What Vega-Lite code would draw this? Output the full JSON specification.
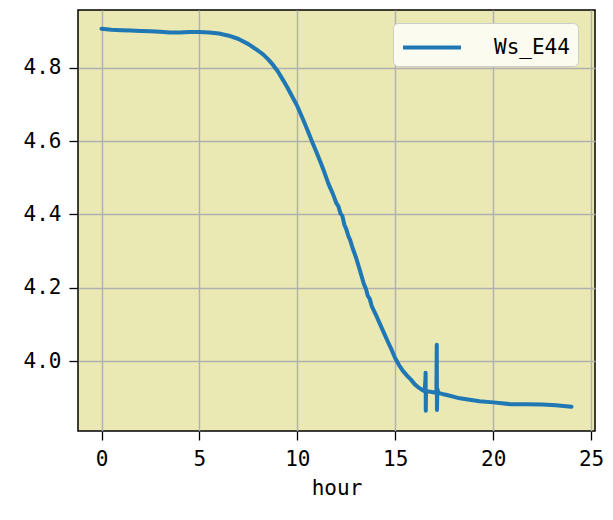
{
  "$schema": "https://vega.github.io/schema/vega-lite/v6.json",
  "autosize": "none",
  "width": 517,
  "height": 421,
  "padding": {"left": 78, "top": 10, "right": 18, "bottom": 89},
  "background": "white",
  "config": {
    "view": {"fill": "#EAE8B3", "stroke": "black", "strokeWidth": 1.5},
    "axis": {
      "labelFont": "DejaVu Sans Mono",
      "labelFontSize": 21,
      "labelColor": "black",
      "titleFont": "DejaVu Sans Mono",
      "titleFontSize": 21,
      "titleFontWeight": "normal",
      "titleColor": "black",
      "domain": false,
      "gridColor": "#b0b0b0",
      "gridWidth": 1.4,
      "tickColor": "black",
      "tickWidth": 1.3,
      "tickSize": 9,
      "labelPadding": 8
    }
  },
  "data": {
    "values": [
      {"hour": 0, "value": 4.906},
      {"hour": 0.5, "value": 4.903},
      {"hour": 1, "value": 4.902},
      {"hour": 1.5, "value": 4.901},
      {"hour": 2, "value": 4.900},
      {"hour": 2.5, "value": 4.899},
      {"hour": 3, "value": 4.898},
      {"hour": 3.5, "value": 4.896},
      {"hour": 4, "value": 4.896},
      {"hour": 4.5, "value": 4.897},
      {"hour": 5, "value": 4.897},
      {"hour": 5.5, "value": 4.896},
      {"hour": 6, "value": 4.893},
      {"hour": 6.5, "value": 4.887},
      {"hour": 7, "value": 4.878},
      {"hour": 7.5, "value": 4.864},
      {"hour": 8, "value": 4.846},
      {"hour": 8.25, "value": 4.836},
      {"hour": 8.5, "value": 4.823},
      {"hour": 8.75, "value": 4.808},
      {"hour": 9, "value": 4.790},
      {"hour": 9.25, "value": 4.768},
      {"hour": 9.5, "value": 4.745},
      {"hour": 9.75, "value": 4.720},
      {"hour": 10, "value": 4.695},
      {"hour": 10.25, "value": 4.664},
      {"hour": 10.5, "value": 4.632},
      {"hour": 10.75, "value": 4.599},
      {"hour": 11, "value": 4.567},
      {"hour": 11.2, "value": 4.540},
      {"hour": 11.4, "value": 4.512},
      {"hour": 11.6, "value": 4.482},
      {"hour": 11.8, "value": 4.458},
      {"hour": 12.0, "value": 4.430},
      {"hour": 12.1, "value": 4.422},
      {"hour": 12.2, "value": 4.403},
      {"hour": 12.3, "value": 4.396},
      {"hour": 12.4, "value": 4.372},
      {"hour": 12.5, "value": 4.360},
      {"hour": 12.6, "value": 4.342},
      {"hour": 12.7, "value": 4.330},
      {"hour": 12.8, "value": 4.312},
      {"hour": 12.9, "value": 4.297},
      {"hour": 13.0, "value": 4.282},
      {"hour": 13.2, "value": 4.247},
      {"hour": 13.4, "value": 4.210},
      {"hour": 13.5, "value": 4.198},
      {"hour": 13.6, "value": 4.178},
      {"hour": 13.7, "value": 4.170},
      {"hour": 13.8, "value": 4.150},
      {"hour": 14.0, "value": 4.128},
      {"hour": 14.2, "value": 4.104},
      {"hour": 14.4, "value": 4.080},
      {"hour": 14.6, "value": 4.056},
      {"hour": 14.8, "value": 4.033},
      {"hour": 15.0, "value": 4.008},
      {"hour": 15.2, "value": 3.989},
      {"hour": 15.4, "value": 3.973},
      {"hour": 15.6, "value": 3.961},
      {"hour": 15.8, "value": 3.950},
      {"hour": 16.0, "value": 3.937},
      {"hour": 16.2, "value": 3.928},
      {"hour": 16.4, "value": 3.921},
      {"hour": 16.5, "value": 3.918},
      {"hour": 16.54, "value": 3.950},
      {"hour": 16.55, "value": 3.969},
      {"hour": 16.56, "value": 3.865},
      {"hour": 16.57, "value": 3.920},
      {"hour": 16.6, "value": 3.918},
      {"hour": 16.8, "value": 3.917},
      {"hour": 17.0, "value": 3.915},
      {"hour": 17.1, "value": 3.913},
      {"hour": 17.12, "value": 4.045},
      {"hour": 17.13, "value": 3.867},
      {"hour": 17.15, "value": 3.925},
      {"hour": 17.2, "value": 3.914},
      {"hour": 17.4, "value": 3.911},
      {"hour": 17.64, "value": 3.908},
      {"hour": 18.3, "value": 3.899},
      {"hour": 19.3, "value": 3.891},
      {"hour": 20.0, "value": 3.888},
      {"hour": 20.9, "value": 3.883},
      {"hour": 21.7, "value": 3.883},
      {"hour": 22.5, "value": 3.882},
      {"hour": 23.2, "value": 3.880},
      {"hour": 24.0, "value": 3.876}
    ]
  },
  "mark": {"type": "line", "strokeWidth": 4, "strokeJoin": "round", "strokeCap": "round"},
  "encoding": {
    "x": {
      "field": "hour",
      "type": "quantitative",
      "scale": {"domain": [-1.2, 25.2], "nice": false, "zero": false},
      "axis": {"values": [0, 5, 10, 15, 20, 25], "title": "hour", "titlePadding": 8}
    },
    "y": {
      "field": "value",
      "type": "quantitative",
      "scale": {"domain": [3.81, 4.957], "nice": false, "zero": false},
      "axis": {"values": [4.0, 4.2, 4.4, 4.6, 4.8], "format": ".1f", "title": null}
    },
    "color": {
      "datum": "Ws_E44",
      "type": "nominal",
      "scale": {"range": ["#1f77b4"]},
      "legend": {
        "title": null,
        "orient": "none",
        "legendX": 315,
        "legendY": 13,
        "symbolType": "M-1,0H3",
        "symbolSize": 841,
        "symbolStrokeWidth": 4,
        "labelFont": "DejaVu Sans Mono",
        "labelFontSize": 21,
        "labelColor": "black",
        "labelOffset": 60,
        "padding": 8,
        "fillColor": "#FBFBF0",
        "strokeColor": "#CCCCCC",
        "cornerRadius": 5
      }
    }
  }
}
